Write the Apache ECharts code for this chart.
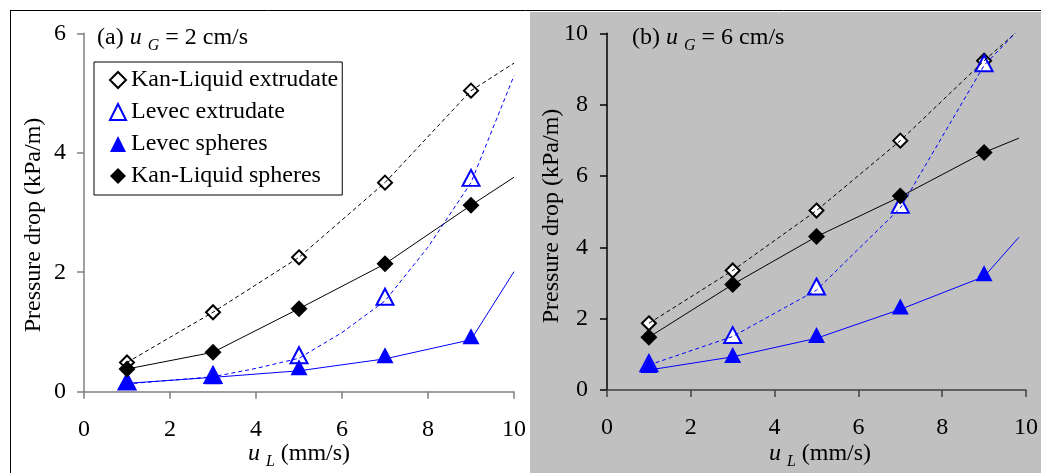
<!DOCTYPE html>
<html>
<head>
<meta charset="utf-8">
<script src="https://cdn.jsdelivr.net/npm/echarts@6/dist/echarts.min.js"></script>
<style>
  html, body { margin: 0; padding: 0; background: #fff; }
  #chart { width: 1041px; height: 473px; }
</style>
</head>
<body>
<div id="chart"></div>
<script>
var FONT = 'Liberation Serif';

// measured liquid velocities (mm/s)
var xPts = [1, 3, 5, 7, 9];
var xTicks = [0, 2, 4, 6, 8, 10];

// (a) uG = 2 cm/s, experimental points (kPa/m)
var aKanExtr = [0.49, 1.33, 2.25, 3.50, 5.04];
var aLevExtr = [0.17, 0.28, 0.61, 1.59, 3.58];
var aLevSph  = [0.17, 0.26, 0.41, 0.61, 0.93];
var aKanSph  = [0.38, 0.66, 1.39, 2.14, 3.12];

// (a) model curves
var aKanExtrFitX = [1, 3, 5, 7, 9, 10];
var aKanExtrFitY = [0.49, 1.33, 2.25, 3.50, 5.04, 5.50];
var aKanSphFitX  = [1, 3, 5, 7, 9, 10];
var aKanSphFitY  = [0.38, 0.66, 1.39, 2.14, 3.12, 3.59];
var aLevExtrFitX = [1, 2, 3, 4, 5, 6, 7, 8, 9, 10];
var aLevExtrFitY = [0.13, 0.19, 0.25, 0.39, 0.56, 0.99, 1.52, 2.42, 3.50, 5.29];
var aLevSphFitX  = [1, 3, 5, 7, 9, 10];
var aLevSphFitY  = [0.14, 0.24, 0.35, 0.55, 0.87, 2.01];

// (b) uG = 6 cm/s, experimental points (kPa/m)
var bKanExtr = [1.87, 3.35, 5.03, 6.99, 9.23];
var bLevExtr = [0.75, 1.54, 2.90, 5.19, 9.16];
var bLevSph  = [0.70, 0.98, 1.54, 2.34, 3.27];
var bKanSph  = [1.48, 2.96, 4.30, 5.44, 6.66];

// (b) model curves
var bKanExtrFitX = [1, 3, 5, 7, 9, 9.74];
var bKanExtrFitY = [1.87, 3.35, 5.03, 6.99, 9.23, 10];
var bKanSphFitX  = [1, 3, 5, 7, 9, 9.83];
var bKanSphFitY  = [1.48, 2.96, 4.30, 5.42, 6.66, 7.06];
var bLevExtrFitX = [1, 3, 5, 7, 9, 9.74];
var bLevExtrFitY = [0.70, 1.50, 2.80, 5.10, 9.10, 10];
var bLevSphFitX  = [1, 3, 5, 7, 9, 9.83];
var bLevSphFitY  = [0.56, 0.93, 1.45, 2.26, 3.18, 4.28];

var names = ['Kan-Liquid extrudate', 'Levec extrudate', 'Levec spheres', 'Kan-Liquid spheres'];

function pairs(xs, ys) {
    return xs.map(function (x, i) { return [x, ys[i]]; });
}

function markerSeries(name, idx, ys) {
    var open = name.indexOf('extrudate') >= 0;
    var blue = name.indexOf('Levec') >= 0;
    var col = blue ? '#0000ff' : '#000000';
    var isTri = blue;
    return {
        name: name,
        type: 'scatter',
        xAxisIndex: idx,
        yAxisIndex: idx,
        data: pairs(xPts, ys),
        symbol: isTri ? 'triangle' : 'diamond',
        symbolSize: isTri ? [17, 16] : (open ? [14, 14] : [17, 17]),
        itemStyle: {
            color: open ? '#ffffff' : col,
            borderColor: col,
            borderWidth: open ? 2 : 0,
            opacity: 1
        },
        z: 3
    };
}

function fitSeries(idx, xs, ys, col, dashed) {
    return {
        type: 'line',
        xAxisIndex: idx,
        yAxisIndex: idx,
        data: pairs(xs, ys),
        symbol: 'none',
        silent: true,
        lineStyle: { color: col, width: 1, type: dashed ? [4, 3] : 'solid' },
        z: 5
    };
}

function xAxisDef(idx, axisCol) {
    return {
        gridIndex: idx, type: 'value', min: 0, max: 10, interval: 2,
        axisLine: { lineStyle: { color: axisCol, width: 1.5 } },
        axisTick: { inside: false, length: 7, lineStyle: { color: axisCol, width: 1.5 } },
        axisLabel: { margin: 26, fontFamily: FONT, fontSize: 24, color: '#000' },
        splitLine: { show: false }
    };
}

function yAxisDef(idx, max, axisCol, margin) {
    return {
        gridIndex: idx, type: 'value', min: 0, max: max, interval: 2,
        axisLine: { show: true, lineStyle: { color: axisCol, width: 1.5 } },
        axisTick: { show: true, inside: false, length: 7, lineStyle: { color: axisCol, width: 1.5 } },
        axisLabel: { margin: margin, fontFamily: FONT, fontSize: 24, color: '#000' },
        splitLine: { show: false }
    };
}

function richText(prefix, sub, suffix) {
    return {
        text: prefix + '{i|u} {s|' + sub + '}' + suffix,
        fontFamily: FONT, fontSize: 24, fill: '#000',
        rich: {
            i: { fontFamily: FONT, fontSize: 24, fontStyle: 'italic', fill: '#000' },
            s: { fontFamily: FONT, fontSize: 16, fontStyle: 'italic', fill: '#000', padding: [16, 0, 0, 0] }
        }
    };
}

var chart = echarts.init(document.getElementById('chart'));

var option = {
    animation: false,
    backgroundColor: '#ffffff',
    grid: [
        { left: 84, top: 33.3, width: 430, height: 358.4 },
        { left: 607, top: 33.3, width: 427.3, height: 356.7 }
    ],
    xAxis: [xAxisDef(0, '#808080'), xAxisDef(1, '#404040')],
    yAxis: [yAxisDef(0, 6, '#808080', 18), yAxisDef(1, 10, '#000000', 19)],
    legend: {
        orient: 'vertical',
        left: 94,
        top: 62,
        padding: [6, 4, 7, 15],
        itemGap: 8,
        itemWidth: 16,
        itemHeight: 16,
        borderColor: '#000',
        borderWidth: 1,
        backgroundColor: '#fff',
        textStyle: { fontFamily: FONT, fontSize: 24, color: '#000' },
        data: names
    },
    graphic: [
        { type: 'rect', z: -10, shape: { x: 530, y: 12, width: 511, height: 461 }, style: { fill: '#c0c0c0' } },
        { type: 'line', z: -5, shape: { x1: 10, y1: 10.5, x2: 1041, y2: 10.5 }, style: { stroke: '#000', lineWidth: 1 } },
        { type: 'line', z: -5, shape: { x1: 10.5, y1: 10, x2: 10.5, y2: 473 }, style: { stroke: '#000', lineWidth: 1 } },
        { type: 'text', x: 97, y: 22, style: richText('(a) ', 'G', ' = 2 cm/s') },
        { type: 'text', x: 632, y: 22, style: richText('(b) ', 'G', ' = 6 cm/s') },
        { type: 'text', x: 299, y: 438, style: Object.assign(richText('', 'L', ' (mm/s)'), { textAlign: 'center' }) },
        { type: 'text', x: 820, y: 438, style: Object.assign(richText('', 'L', ' (mm/s)'), { textAlign: 'center' }) },
        { type: 'text', x: 33.5, y: 225, rotation: Math.PI / 2,
          style: { text: 'Pressure drop (kPa/m)', fontFamily: FONT, fontSize: 24, fill: '#000', textAlign: 'center', textVerticalAlign: 'middle' } },
        { type: 'text', x: 551.7, y: 216, rotation: Math.PI / 2,
          style: { text: 'Pressure drop (kPa/m)', fontFamily: FONT, fontSize: 24, fill: '#000', textAlign: 'center', textVerticalAlign: 'middle' } }
    ],
    series: [
        markerSeries(names[0], 0, aKanExtr),
        markerSeries(names[1], 0, aLevExtr),
        markerSeries(names[2], 0, aLevSph),
        markerSeries(names[3], 0, aKanSph),
        markerSeries(names[0], 1, bKanExtr),
        markerSeries(names[1], 1, bLevExtr),
        markerSeries(names[2], 1, bLevSph),
        markerSeries(names[3], 1, bKanSph),
        fitSeries(0, aKanExtrFitX, aKanExtrFitY, '#000', true),
        fitSeries(0, aKanSphFitX, aKanSphFitY, '#000', false),
        fitSeries(0, aLevExtrFitX, aLevExtrFitY, '#0000ff', true),
        fitSeries(0, aLevSphFitX, aLevSphFitY, '#0000ff', false),
        fitSeries(1, bKanExtrFitX, bKanExtrFitY, '#000', true),
        fitSeries(1, bKanSphFitX, bKanSphFitY, '#000', false),
        fitSeries(1, bLevExtrFitX, bLevExtrFitY, '#0000ff', true),
        fitSeries(1, bLevSphFitX, bLevSphFitY, '#0000ff', false)
    ]
};

chart.setOption(option);
</script>
</body>
</html>
